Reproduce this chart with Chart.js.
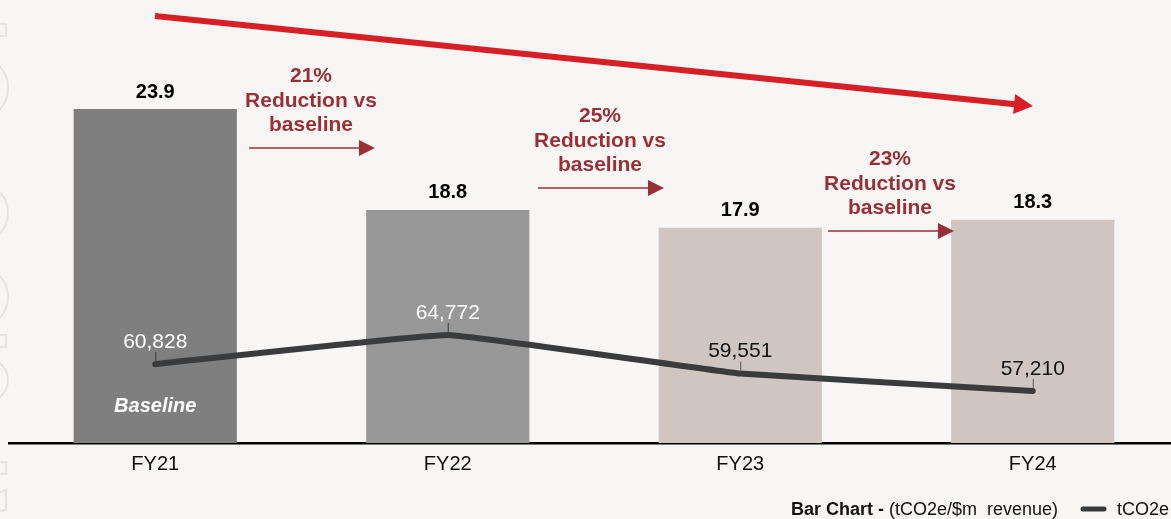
<!DOCTYPE html>
<html>
<head>
<meta charset="utf-8">
<script src="https://cdn.jsdelivr.net/npm/chart.js@4"></script>
<style>
html,body{margin:0;padding:0;background:#f7f6f4;overflow:hidden;width:1171px;height:519px;}
#wrap{position:absolute;left:0;top:0;width:1190px;height:519px;}
</style>
</head>
<body>
<div id="wrap"><canvas id="c" width="1190" height="519"></canvas></div>
<script>
const categories = ['FY21', 'FY22', 'FY23', 'FY24'];
const intensity = [23.9, 18.8, 17.9, 18.3];          // tCO2e/$m revenue (bars)
const emissions = [60828, 64772, 59551, 57210];      // tCO2e (line)
const reductions = ['21%', '25%', '23%'];            // reduction vs baseline
const baselineLabel = 'Baseline';

const FONT = '"Liberation Sans", Arial, Helvetica, sans-serif';
const BG = '#f7f6f4';
const BAR_COLORS = ['#7f7f7f', '#989898', '#cfc6c1', '#cfc6c1'];
const LINE_COLOR = '#3a3b3d';
const ANN_COLOR = '#9b2f36';
const RED = '#d71f26';

function arrow(ctx, x1, y1, x2, y2, width, headLen, headHalf, color) {
  const ang = Math.atan2(y2 - y1, x2 - x1);
  const bx = x2 - headLen * Math.cos(ang), by = y2 - headLen * Math.sin(ang);
  ctx.save();
  ctx.strokeStyle = color; ctx.fillStyle = color; ctx.lineWidth = width;
  ctx.beginPath(); ctx.moveTo(x1, y1); ctx.lineTo(bx + Math.cos(ang), by + Math.sin(ang)); ctx.stroke();
  ctx.beginPath();
  ctx.moveTo(x2, y2);
  ctx.lineTo(bx + headHalf * Math.sin(ang), by - headHalf * Math.cos(ang));
  ctx.lineTo(bx - headHalf * Math.sin(ang), by + headHalf * Math.cos(ang));
  ctx.closePath(); ctx.fill();
  ctx.restore();
}

const decorPlugin = {
  id: 'decor',
  beforeDraw(chart) {
    const ctx = chart.ctx;
    ctx.save();
    ctx.fillStyle = BG;
    ctx.fillRect(0, 0, chart.width, chart.height);
    ctx.strokeStyle = '#e6e4e2';
    ctx.lineWidth = 2;
    [[24], [335], [462]].forEach(([y]) => { ctx.strokeRect(-6, y, 12, 12); });
    [[88, 28], [213, 27], [297, 27], [380, 22]].forEach(([cy, ry]) => {
      ctx.beginPath(); ctx.ellipse(-15, cy, 23, ry, 0, 0, Math.PI * 2); ctx.stroke();
    });
    ctx.beginPath(); ctx.moveTo(-4, 494); ctx.lineTo(6, 490); ctx.lineTo(6, 510); ctx.lineTo(-4, 512); ctx.stroke();
    ctx.restore();
  },
  afterDatasetsDraw(chart) {
    const ctx = chart.ctx;
    const barMeta = chart.getDatasetMeta(1);
    const lineMeta = chart.getDatasetMeta(0);
    ctx.save();
    ctx.textAlign = 'center';
    ctx.textBaseline = 'middle';
    // bar value labels
    ctx.font = 'bold 20px ' + FONT;
    ctx.fillStyle = '#000';
    barMeta.data.forEach((b, i) => {
      ctx.fillText(intensity[i].toFixed(1), b.x, b.y - 17);
    });
    // line value labels + leader ticks
    ctx.font = '21px ' + FONT;
    lineMeta.data.forEach((p, i) => {
      const c = i < 2 ? '#ffffff' : '#111111';
      ctx.strokeStyle = i < 2 ? '#3a3b3d' : '#555555';
      ctx.lineWidth = 1;
      ctx.beginPath(); ctx.moveTo(p.x + 0.5, p.y - 12); ctx.lineTo(p.x + 0.5, p.y - 3); ctx.stroke();
      ctx.fillStyle = c;
      ctx.fillText(emissions[i].toLocaleString('en-US'), p.x, p.y - 22);
    });
    // baseline label
    ctx.font = 'italic bold 20px ' + FONT;
    ctx.fillStyle = '#ffffff';
    ctx.fillText(baselineLabel, barMeta.data[0].x, 406);
    // reduction annotations
    const annX = [311, 600, 890];
    const annY = [76, 116, 159];
    ctx.font = 'bold 21px ' + FONT;
    ctx.fillStyle = ANN_COLOR;
    reductions.forEach((r, i) => {
      const x = annX[i], y = annY[i];
      ctx.fillText(r, x, y);
      ctx.fillText('Reduction vs', x, y + 25);
      ctx.fillText('baseline', x, y + 49);
      arrow(ctx, x - 62, y + 72, x + 64, y + 72, 1.5, 16, 8, ANN_COLOR);
    });
    // big red trend arrow
    arrow(ctx, 155, 16, 1033, 106, 6, 19, 10, RED);
    // legend
    ctx.textAlign = 'left';
    ctx.textBaseline = 'middle';
    ctx.fillStyle = '#111';
    ctx.font = 'bold 18px ' + FONT;
    const t1 = 'Bar Chart - ';
    ctx.fillText(t1, 791, 510);
    const w1 = ctx.measureText(t1).width;
    ctx.font = '18px ' + FONT;
    ctx.fillText('(tCO2e/$m  revenue)', 791 + w1, 510);
    ctx.strokeStyle = LINE_COLOR; ctx.lineWidth = 5; ctx.lineCap = 'round';
    ctx.beginPath(); ctx.moveTo(1083, 509); ctx.lineTo(1104, 509); ctx.stroke();
    ctx.fillText('tCO2e', 1117, 510);
    ctx.restore();
  }
};

new Chart(document.getElementById('c'), {
  data: {
    labels: categories,
    datasets: [
      {
        type: 'line',
        label: 'tCO2e',
        data: emissions,
        yAxisID: 'y1',
        borderColor: LINE_COLOR,
        borderWidth: 6,
        borderCapStyle: 'round',
        borderJoinStyle: 'round',
        pointRadius: 0,
        tension: 0.08,
        order: 0
      },
      {
        type: 'bar',
        label: 'Bar Chart - (tCO2e/$m revenue)',
        data: intensity,
        yAxisID: 'y',
        backgroundColor: BAR_COLORS,
        barPercentage: 0.558,
        categoryPercentage: 1,
        order: 1
      }
    ]
  },
  options: {
    responsive: false,
    devicePixelRatio: 1,
    animation: false,
    layout: { padding: { left: 9, right: 11, top: 10, bottom: 46 } },
    plugins: { legend: { display: false }, tooltip: { enabled: false } },
    scales: {
      x: {
        grid: { display: false, drawTicks: false },
        border: { display: true, color: '#000', width: 2.5 },
        ticks: { color: '#111', font: { size: 20, family: FONT }, padding: 9 },
        afterFit(s) { s.height = 30; }
      },
      y: { display: false, min: 7.03, max: 28.9 },
      y1: { display: false, min: 50180, max: 108660 }
    }
  },
  plugins: [decorPlugin]
});
</script>
</body>
</html>
